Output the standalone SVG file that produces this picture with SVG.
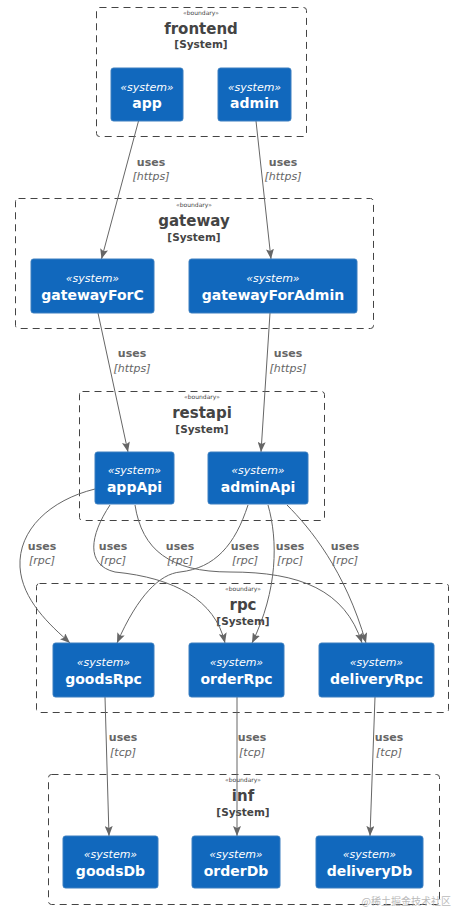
<svg xmlns="http://www.w3.org/2000/svg" width="454" height="909" viewBox="0 0 454 909">
<defs>
<style>
.bnd{fill:none;stroke:#444444;stroke-width:1;stroke-dasharray:7,5}
.bs{font-family:"DejaVu Sans",Verdana,sans-serif;font-size:6px;fill:#444444;text-anchor:middle}
.bt{font-family:"DejaVu Sans",Verdana,sans-serif;font-size:15px;font-weight:bold;fill:#444444;text-anchor:middle}
.bk{font-family:"DejaVu Sans",Verdana,sans-serif;font-size:10.5px;font-weight:bold;fill:#444444;text-anchor:middle}
.nd{fill:#1168BD;stroke:#3C7FC0;stroke-width:1}
.st{font-family:"DejaVu Sans",Verdana,sans-serif;font-size:11px;font-style:italic;fill:#FFFFFF;text-anchor:middle}
.nm{font-family:"DejaVu Sans",Verdana,sans-serif;font-size:14px;font-weight:bold;fill:#FFFFFF;text-anchor:middle}
.ed{fill:none;stroke:#666666;stroke-width:1;marker-end:url(#ah)}
.lu{font-family:"DejaVu Sans",Verdana,sans-serif;font-size:11px;font-weight:bold;fill:#666666;text-anchor:middle}
.lt{font-family:"DejaVu Sans",Verdana,sans-serif;font-size:11px;font-style:italic;fill:#666666;text-anchor:middle}
</style>
<marker id="ah" markerUnits="userSpaceOnUse" viewBox="0 0 10 8" refX="10" refY="4" markerWidth="10" markerHeight="8" orient="auto">
<path d="M0,0 L10,4 L0,8 L2,4 Z" fill="#666666"/>
</marker>
</defs>
<rect width="454" height="909" fill="#FFFFFF"/>

<g id="boundary-frontend">
<rect class="bnd" x="96.5" y="7.5" width="210" height="129" rx="3"/>
<text class="bs" x="201" y="15">«boundary»</text>
<text class="bt" x="201" y="34">frontend</text>
<text class="bk" x="201" y="48">[System]</text>
</g>
<g id="boundary-gateway">
<rect class="bnd" x="15.5" y="198.5" width="358" height="130" rx="3"/>
<text class="bs" x="194" y="207">«boundary»</text>
<text class="bt" x="194" y="226">gateway</text>
<text class="bk" x="194" y="241">[System]</text>
</g>
<g id="boundary-restapi">
<rect class="bnd" x="79.5" y="391.5" width="245" height="129" rx="3"/>
<text class="bs" x="202" y="399">«boundary»</text>
<text class="bt" x="202" y="418">restapi</text>
<text class="bk" x="202" y="433">[System]</text>
</g>
<g id="boundary-rpc">
<rect class="bnd" x="36.5" y="583.5" width="412" height="129" rx="3"/>
<text class="bs" x="243" y="591">«boundary»</text>
<text class="bt" x="243" y="610">rpc</text>
<text class="bk" x="243" y="625">[System]</text>
</g>
<g id="boundary-inf">
<rect class="bnd" x="48.5" y="774.5" width="391" height="130" rx="3"/>
<text class="bs" x="243" y="782">«boundary»</text>
<text class="bt" x="243" y="801">inf</text>
<text class="bk" x="243" y="816">[System]</text>
</g>

<g id="connectors">
<path class="ed" d="M138.5,121 L101.5,259"/>
<path class="ed" d="M256,121 L271,259"/>
<path class="ed" d="M98,313 L128,452"/>
<path class="ed" d="M270,313 L261,452"/>
<path class="ed" d="M95,489 C50,500 18,530 20,567 C22,600 50,625 70,643"/>
<path class="ed" d="M110,505 C90,535 85,565 115,572 C175,578 215,600 225,643"/>
<path class="ed" d="M135,505 C142,550 170,572 230,572 C300,572 345,590 362,643"/>
<path class="ed" d="M248,505 C235,545 215,568 180,572 C160,574 138,595 117,643"/>
<path class="ed" d="M268,505 C278,540 278,590 252,643"/>
<path class="ed" d="M287,505 C310,528 345,570 366,643"/>
<path class="ed" d="M105,697 L109,836"/>
<path class="ed" d="M237,697 L237,836"/>
<path class="ed" d="M375,697 L370,836"/>
<text class="lu" x="151" y="166">uses</text><text class="lt" x="151" y="180">[https]</text>
<text class="lu" x="283" y="166">uses</text><text class="lt" x="283" y="180">[https]</text>
<text class="lu" x="132" y="357">uses</text><text class="lt" x="132" y="372">[https]</text>
<text class="lu" x="288" y="357">uses</text><text class="lt" x="288" y="372">[https]</text>
<text class="lu" x="42" y="550">uses</text><text class="lt" x="42" y="564">[rpc]</text>
<text class="lu" x="113" y="550">uses</text><text class="lt" x="113" y="564">[rpc]</text>
<text class="lu" x="180" y="550">uses</text><text class="lt" x="180" y="564">[rpc]</text>
<text class="lu" x="245" y="550">uses</text><text class="lt" x="245" y="564">[rpc]</text>
<text class="lu" x="290" y="550">uses</text><text class="lt" x="290" y="564">[rpc]</text>
<text class="lu" x="345" y="550">uses</text><text class="lt" x="345" y="564">[rpc]</text>
<text class="lu" x="123" y="741">uses</text><text class="lt" x="123" y="756">[tcp]</text>
<text class="lu" x="252" y="741">uses</text><text class="lt" x="252" y="756">[tcp]</text>
<text class="lu" x="389" y="741">uses</text><text class="lt" x="389" y="756">[tcp]</text>
</g>

<g id="app"><rect class="nd" x="111" y="68" width="72" height="53" rx="2.5"/><text class="st" x="147" y="91">«system»</text><text class="nm" x="147" y="108">app</text></g>
<g id="admin"><rect class="nd" x="218" y="68" width="73" height="53" rx="2.5"/><text class="st" x="254.5" y="91">«system»</text><text class="nm" x="254.5" y="108">admin</text></g>
<g id="gatewayForC"><rect class="nd" x="31" y="259" width="123" height="54" rx="2.5"/><text class="st" x="92.5" y="282">«system»</text><text class="nm" x="92.5" y="300">gatewayForC</text></g>
<g id="gatewayForAdmin"><rect class="nd" x="189" y="259" width="168" height="54" rx="2.5"/><text class="st" x="273" y="282">«system»</text><text class="nm" x="273" y="300">gatewayForAdmin</text></g>
<g id="appApi"><rect class="nd" x="95" y="452" width="79" height="52" rx="2.5"/><text class="st" x="134.5" y="474">«system»</text><text class="nm" x="134.5" y="492">appApi</text></g>
<g id="adminApi"><rect class="nd" x="208" y="452" width="100" height="52" rx="2.5"/><text class="st" x="258" y="474">«system»</text><text class="nm" x="258" y="492">adminApi</text></g>
<g id="goodsRpc"><rect class="nd" x="53" y="643" width="101" height="54" rx="2.5"/><text class="st" x="103.5" y="666">«system»</text><text class="nm" x="103.5" y="684">goodsRpc</text></g>
<g id="orderRpc"><rect class="nd" x="189" y="643" width="95" height="54" rx="2.5"/><text class="st" x="236.5" y="666">«system»</text><text class="nm" x="236.5" y="684">orderRpc</text></g>
<g id="deliveryRpc"><rect class="nd" x="319" y="643" width="115" height="54" rx="2.5"/><text class="st" x="376.5" y="666">«system»</text><text class="nm" x="376.5" y="684">deliveryRpc</text></g>
<g id="goodsDb"><rect class="nd" x="63" y="836" width="95" height="52" rx="2.5"/><text class="st" x="110.5" y="858">«system»</text><text class="nm" x="110.5" y="876">goodsDb</text></g>
<g id="orderDb"><rect class="nd" x="192" y="836" width="88" height="52" rx="2.5"/><text class="st" x="236" y="858">«system»</text><text class="nm" x="236" y="876">orderDb</text></g>
<g id="deliveryDb"><rect class="nd" x="316" y="836" width="107" height="52" rx="2.5"/><text class="st" x="369.5" y="858">«system»</text><text class="nm" x="369.5" y="876">deliveryDb</text></g>

<text x="451" y="905" font-family="'Noto Sans CJK SC',sans-serif" font-size="10" fill="#BBBBBB" text-anchor="end">@稀土掘金技术社区</text>
</svg>
